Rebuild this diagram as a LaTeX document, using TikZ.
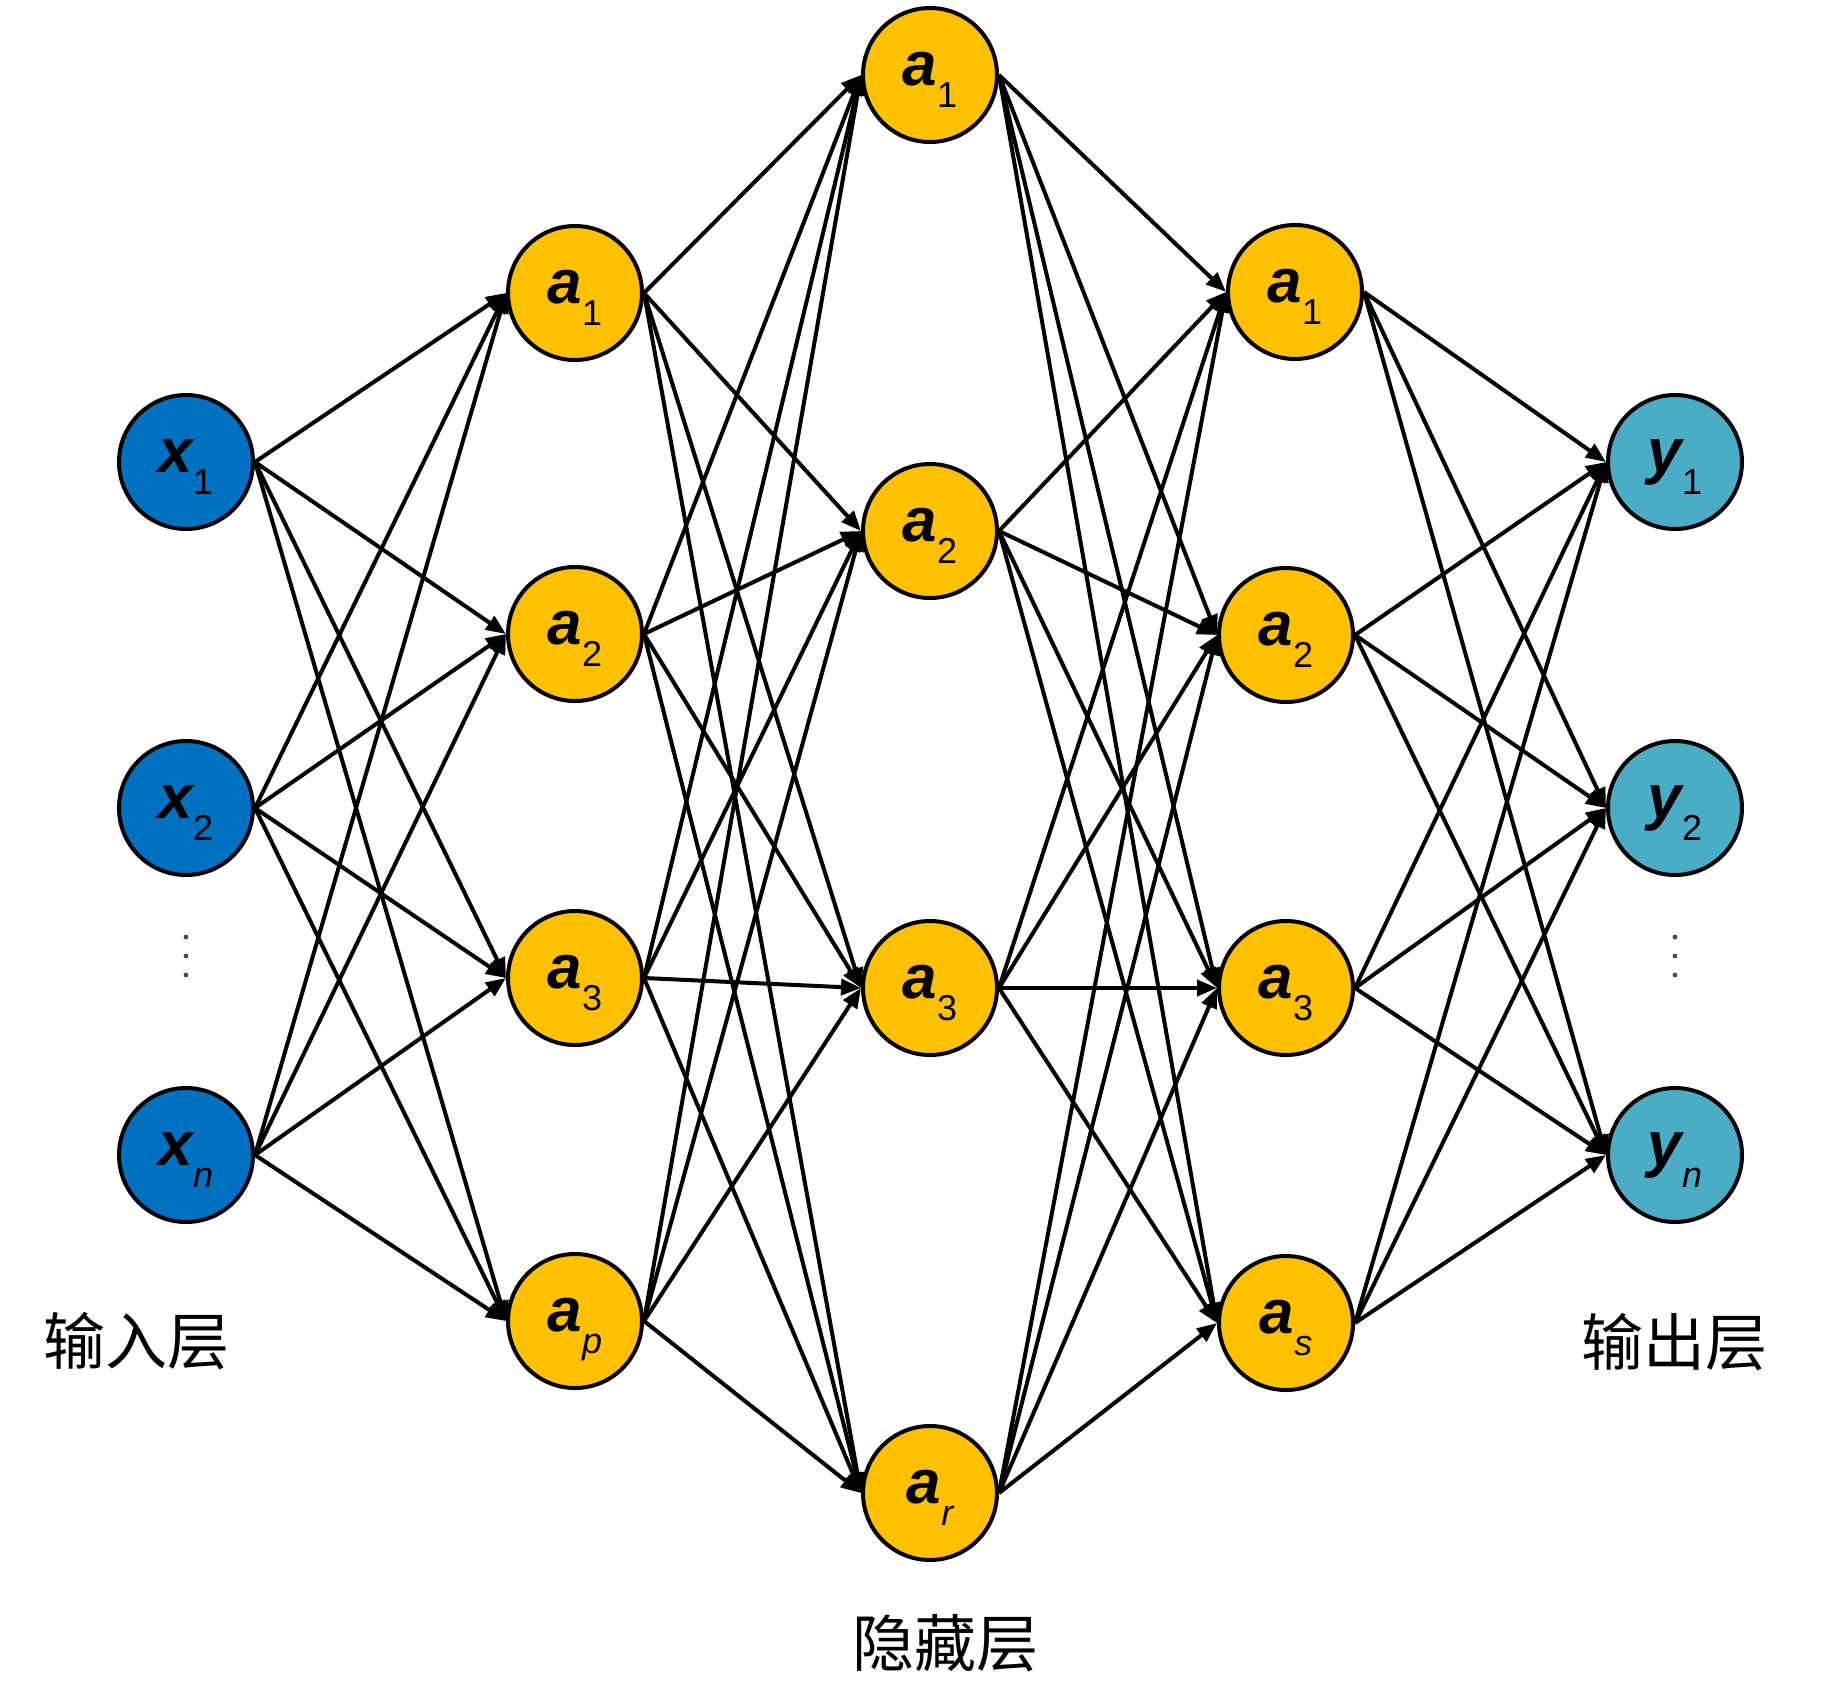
\documentclass[tikz,border=0pt]{standalone}
\usepackage{fontspec}
\setmainfont{Liberation Sans}
\newfontfamily\cjk{Noto Sans CJK SC}
\usetikzlibrary{arrows.meta}
\definecolor{inblue}{HTML}{0070C0}
\definecolor{hidgold}{HTML}{FFC000}
\definecolor{outteal}{HTML}{4BACC6}
\newcommand{\nlab}[2]{{\fontsize{31pt}{31pt}\selectfont\bfseries\itshape #1}\raisebox{-11pt}{\fontsize{18pt}{18pt}\selectfont #2}}
\begin{document}
\begin{tikzpicture}[x=0.5pt,y=-0.5pt,
  neuron/.style={circle,draw=black,line width=2pt,minimum size=67pt,inner sep=0pt,text height=16pt,text depth=6pt},
  inp/.style={neuron,fill=inblue},
  hid/.style={neuron,fill=hidgold},
  outn/.style={neuron,fill=outteal},
  conn/.style={line width=2pt,-{Triangle[length=10pt,width=8pt]}},
  layerlab/.style={font=\cjk\fontsize{31pt}{31pt}\selectfont,inner sep=0pt},
  vdot/.style={circle,fill=black!70,inner sep=0pt,minimum size=2.4pt}]
\useasboundingbox (0,0) rectangle (1822,1693);
% input layer
\node[inp] (i1) at (186,462) {\nlab{x}{1}};
\node[inp] (i2) at (186,808) {\nlab{x}{2}};
\node[inp] (i3) at (186,1155) {\nlab{x}{\itshape n}};
% hidden layer 1
\node[hid] (h11) at (575,293) {\nlab{a}{1}};
\node[hid] (h12) at (575,634) {\nlab{a}{2}};
\node[hid] (h13) at (575,978) {\nlab{a}{3}};
\node[hid] (h14) at (575,1321) {\nlab{a}{\itshape p}};
% hidden layer 2
\node[hid] (h21) at (930,75) {\nlab{a}{1}};
\node[hid] (h22) at (930,531) {\nlab{a}{2}};
\node[hid] (h23) at (930,988) {\nlab{a}{3}};
\node[hid] (h24) at (930,1493) {\nlab{a}{\itshape r}};
% hidden layer 3
\node[hid] (h31) at (1295,292) {\nlab{a}{1}};
\node[hid] (h32) at (1286,635) {\nlab{a}{2}};
\node[hid] (h33) at (1286,988) {\nlab{a}{3}};
\node[hid] (h34) at (1286,1323) {\nlab{a}{\itshape s}};
% output layer
\node[outn] (o1) at (1675,462) {\nlab{y}{1}};
\node[outn] (o2) at (1675,808) {\nlab{y}{2}};
\node[outn] (o3) at (1675,1155) {\nlab{y}{\itshape n}};
% vertical dots
\node[vdot] (ld1) at (186,937) {};
\node[vdot] (ld2) at (186,956) {};
\node[vdot] (ld3) at (186,975) {};
\node[vdot] (rd1) at (1675,937) {};
\node[vdot] (rd2) at (1675,956) {};
\node[vdot] (rd3) at (1675,975) {};
% connections
\foreach \s in {i1,i2,i3}
  \foreach \t in {h11,h12,h13,h14}
    \draw[conn] (\s.east) -- (\t.west);
\foreach \s in {h11,h12,h13,h14}
  \foreach \t in {h21,h22,h23,h24}
    \draw[conn] (\s.east) -- (\t.west);
\foreach \s in {h21,h22,h23,h24}
  \foreach \t in {h31,h32,h33,h34}
    \draw[conn] (\s.east) -- (\t.west);
\foreach \s in {h31,h32,h33,h34}
  \foreach \t in {o1,o2,o3}
    \draw[conn] (\s.east) -- (\t.west);
% layer labels
\node[layerlab] (linp) at (136,1341) {输入层};
\node[layerlab] (lhid) at (945,1643) {隐藏层};
\node[layerlab] (lout) at (1674,1342) {输出层};
\end{tikzpicture}
\end{document}
